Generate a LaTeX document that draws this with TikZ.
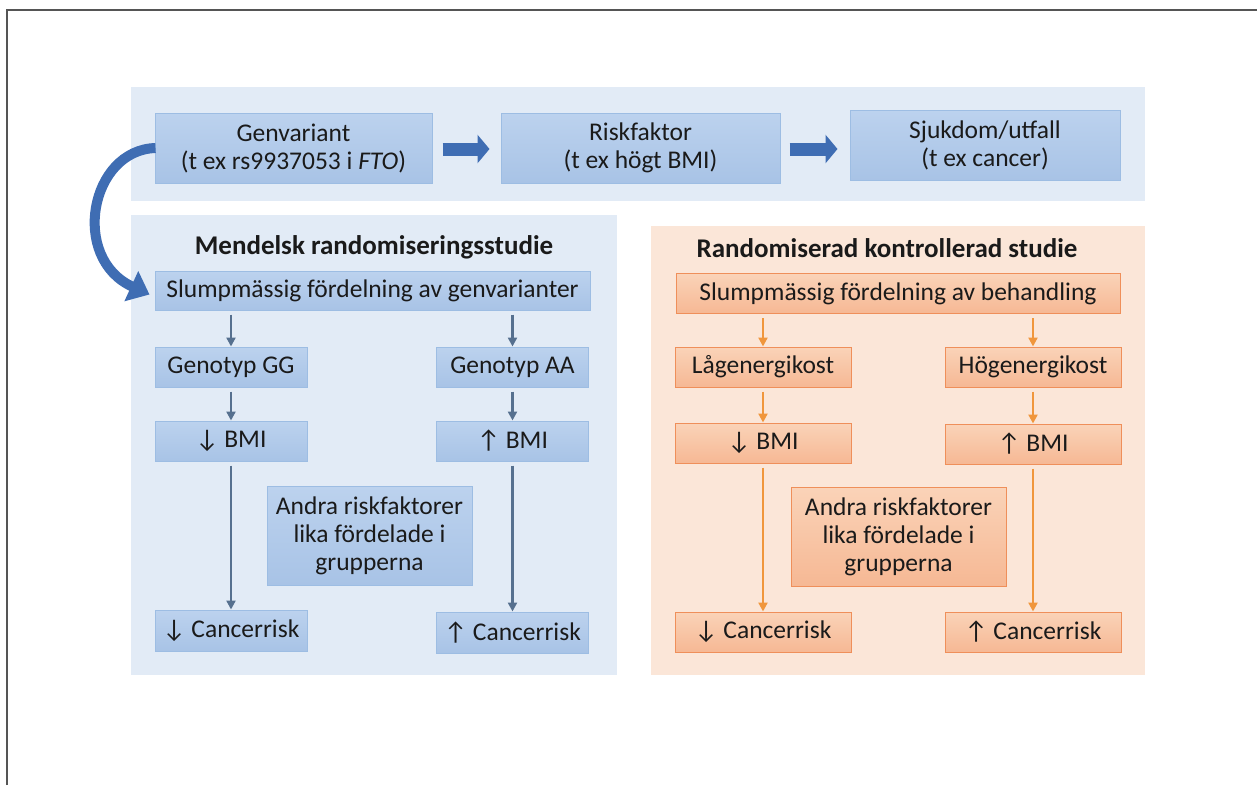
\documentclass[tikz,border=0pt]{standalone}
\usepackage{fontspec}
\setmainfont{Carlito}
\usetikzlibrary{arrows.meta}
\definecolor{panelB}{HTML}{E2EBF6}
\definecolor{panelO}{HTML}{FBE6D8}
\definecolor{bTop}{HTML}{BCD2EE}
\definecolor{bBot}{HTML}{A8C3E6}
\definecolor{bBorder}{HTML}{9DBDE3}
\definecolor{oTop}{HTML}{FAD3B8}
\definecolor{oBot}{HTML}{F6B894}
\definecolor{oBorder}{HTML}{EF8F5A}
\definecolor{txt}{HTML}{1A1A1A}
\definecolor{blockArr}{HTML}{3F6DB3}
\definecolor{grayArr}{HTML}{56708F}
\definecolor{orangeArr}{HTML}{F0963C}
\definecolor{frameC}{HTML}{555555}
\begin{document}
\begin{tikzpicture}[x=1pt,y=-1pt,
  bbox/.style={draw=bBorder, line width=1pt, top color=bTop, bottom color=bBot,
    font=\fontsize{25.5}{28}\selectfont, text=txt, inner sep=0pt, align=center},
  obox/.style={draw=oBorder, line width=1pt, top color=oTop, bottom color=oBot,
    font=\fontsize{25.5}{28}\selectfont, text=txt, inner sep=0pt, align=center},
  ttl/.style={font=\fontsize{27}{30}\selectfont\bfseries, text=txt},
  blk/.style={draw=blockArr, line width=13pt, -{Triangle[length=12pt,width=28pt]}},
  garr/.style={draw=grayArr, line width=2.5pt, -{Triangle[length=9pt,width=9pt]}, shorten <=4pt},
  oarr/.style={draw=orangeArr, line width=2.5pt, -{Triangle[length=9pt,width=9pt]}, shorten <=4pt}
]
\useasboundingbox (0,0) rectangle (1257,785);
\fill[white] (0,0) rectangle (1257,785);
\draw[frameC, line width=2pt] (7,785) -- (7,10) -- (1257,10);

% panels
\fill[panelB] (131,87) rectangle (1145,201);
\fill[panelB] (131,215) rectangle (617,675);
\fill[panelO] (651,226) rectangle (1145,675);

% top row
\node[bbox, minimum width=277pt, minimum height=70pt] (gv) at (293.5,148) {Genvariant\\(t ex rs9937053 i \textit{FTO})};
\node[bbox, minimum width=279pt, minimum height=70pt] (rf) at (640.5,148) {Riskfaktor\\(t ex högt BMI)};
\node[bbox, minimum width=270pt, minimum height=70pt] (sj) at (985,145) {Sjukdom/utfall\\(t ex cancer)};
\draw[blk] ([xshift=10pt,yshift=-1pt]gv.east) -- ([xshift=-11pt,yshift=-1pt]rf.west);
\draw[blk] ([xshift=9pt,yshift=-1pt]rf.east) -- ([xshift=-12pt,yshift=-1pt]rf.east -| sj.west);

% left panel
\node[ttl] (tl) at (374,247) {Mendelsk randomiseringsstudie};
\node[bbox, minimum width=435pt, minimum height=39pt] (sl) at (372.5,290.5) {Slumpmässig fördelning av genvarianter};
\node[bbox, minimum width=152pt, minimum height=40pt] (g1) at (231,367) {Genotyp GG};
\node[bbox, minimum width=152pt, minimum height=40pt] (g2) at (512.5,367) {Genotyp AA};
\node[bbox, minimum width=152pt, minimum height=40pt] (b1) at (231,441) {↓ BMI};
\node[bbox, minimum width=152pt, minimum height=40pt] (b2) at (512.5,441) {↑ BMI};
\node[bbox, minimum width=205pt, minimum height=99pt] (an) at (369.5,535.5) {Andra riskfaktorer\\lika fördelade i\\grupperna};
\node[bbox, minimum width=152pt, minimum height=41pt] (c1) at (231,630.5) {↓ Cancerrisk};
\node[bbox, minimum width=152pt, minimum height=41pt] (c2) at (512.5,632.5) {↑ Cancerrisk};
\draw[garr] (sl.south -| g1.north) -- (g1.north);
\draw[garr] (sl.south -| g2.north) -- (g2.north);
\draw[garr] (g1.south) -- (b1.north);
\draw[garr] (g2.south) -- (b2.north);
\draw[garr] (b1.south) -- (c1.north);
\draw[garr] (b2.south) -- (c2.north);

% curved arrow
\draw[blockArr, line width=10pt, -{Triangle[length=20pt,width=32pt]}]
  ([xshift=1pt]gv.west) .. controls (90,150) and (70,258) .. ([xshift=-5pt,yshift=-4pt]sl.west);

% right panel
\node[ttl] (tr) at (887,248) {Randomiserad kontrollerad studie};
\node[obox, minimum width=444pt, minimum height=40pt] (rs) at (898,293.5) {Slumpmässig fördelning av behandling};
\node[obox, minimum width=176pt, minimum height=40pt] (l1) at (763,367) {Lågenergikost};
\node[obox, minimum width=176pt, minimum height=40pt] (l2) at (1033,367) {Högenergikost};
\node[obox, minimum width=176pt, minimum height=40pt] (rb1) at (763,443) {↓ BMI};
\node[obox, minimum width=176pt, minimum height=40pt] (rb2) at (1033,444) {↑ BMI};
\node[obox, minimum width=215pt, minimum height=99pt] (ran) at (898.5,536.5) {Andra riskfaktorer\\lika fördelade i\\grupperna};
\node[obox, minimum width=176pt, minimum height=40pt] (rc1) at (763,632) {↓ Cancerrisk};
\node[obox, minimum width=176pt, minimum height=40pt] (rc2) at (1033,632) {↑ Cancerrisk};
\draw[oarr] (rs.south -| l1.north) -- (l1.north);
\draw[oarr] (rs.south -| l2.north) -- (l2.north);
\draw[oarr] (l1.south) -- (rb1.north);
\draw[oarr] (l2.south) -- (rb2.north);
\draw[oarr] (rb1.south) -- (rc1.north);
\draw[oarr] (rb2.south) -- (rc2.north);
\end{tikzpicture}
\end{document}
